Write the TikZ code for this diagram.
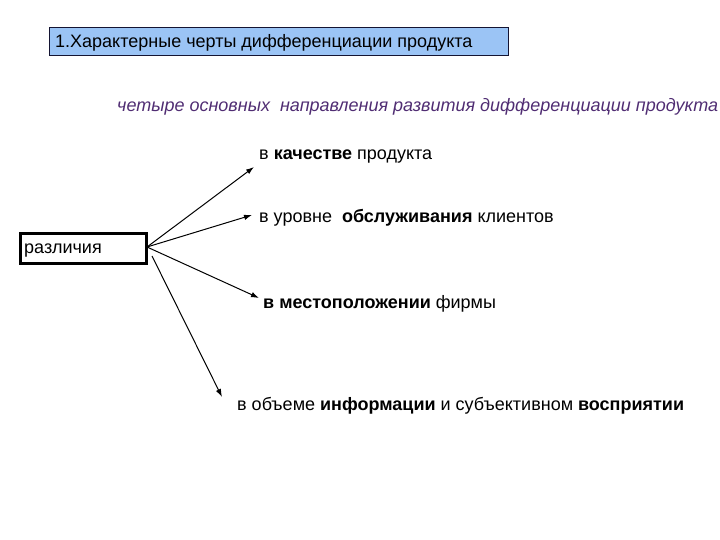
\documentclass[tikz,border=0pt]{standalone}
\usepackage{fontspec}
\setmainfont{Liberation Sans}
\usetikzlibrary{arrows.meta}
\definecolor{titlefill}{RGB}{155,196,245}
\definecolor{titleborder}{RGB}{20,20,50}
\definecolor{subpurple}{RGB}{80,45,115}
\begin{document}
\begin{tikzpicture}[x=1pt,y=-1pt,
  lbl/.style={anchor=west,inner sep=0pt,font=\fontsize{18}{21}\selectfont},
  conn/.style={-{Latex[length=8pt,width=5.5pt]},line width=1pt}]
\useasboundingbox (0,0) rectangle (720,540);
\node[draw=titleborder,fill=titlefill,line width=1.2pt,minimum width=459pt,minimum height=28pt,anchor=north west,inner sep=0pt] (title) at (49,27) {};
\node[anchor=west,inner sep=0pt,font=\fontsize{18}{21}\selectfont] (tt) at (55,43) {1.Характерные черты дифференциации продукта};
\node[anchor=west,inner sep=0pt,text=subpurple,font=\fontsize{18}{21}\selectfont\itshape] (sub) at (117,107) {четыре основных\ \ направления развития дифференциации продукта};
\node[draw,line width=2.5pt,minimum width=126pt,minimum height=30pt,anchor=north west,inner sep=0pt] (diff) at (19,232) {};
\node[lbl,anchor=base west] (dt) at (24,254) {различия};
\node[lbl] (a) at (259,157) {в \textbf{качестве} продукта};
\node[lbl] (b) at (259,218) {в уровне\ \ \textbf{обслуживания} клиентов};
\node[lbl] (c) at (263,304) {\textbf{в местоположении} фирмы};
\node[lbl] (d) at (237,406) {в объеме \textbf{информации} и субъективном \textbf{восприятии}};
\coordinate (s1) at (147,247);
\coordinate (s2) at (152,256);
\coordinate (e1) at (254,167);
\coordinate (e2) at (252,215);
\coordinate (e3) at (259,298);
\coordinate (e4) at (222,397);
\draw[conn] (s1) -- (e1);
\draw[conn] (s1) -- (e2);
\draw[conn] (s1) -- (e3);
\draw[conn] (s2) -- (e4);
\end{tikzpicture}
\end{document}
